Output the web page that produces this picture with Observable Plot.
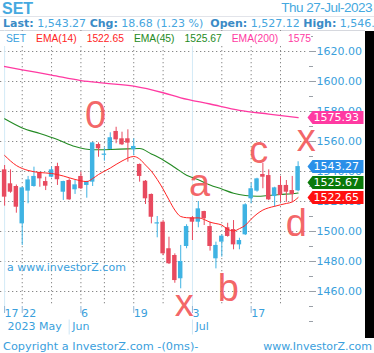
<!DOCTYPE html>
<html><head><meta charset="utf-8">
<script src="https://cdn.jsdelivr.net/npm/d3@7"></script>
<script src="https://cdn.jsdelivr.net/npm/@observablehq/plot@0.6"></script>
<style>
html,body{margin:0;padding:0;background:#fff;}
body{width:374px;height:353px;overflow:hidden;position:relative;font-family:"DejaVu Sans",sans-serif;}
.abs{position:absolute;white-space:nowrap;}
#legend span{margin-right:10px;}
#line2 b{color:#3a8bc6;}
</style></head><body>
<div class="abs" id="title" style="left:2px;top:0px;font:bold 16px 'Liberation Sans';color:#45a9e0;line-height:17px">SET</div>
<div class="abs" id="hdate" style="right:2px;top:0px;font:13.5px 'Liberation Sans';letter-spacing:-0.5px;color:#45a9e0;line-height:16px"></div>
<div class="abs" style="left:0;top:16px;width:374px;height:0;border-top:1px solid #e2e4ea"></div>
<div class="abs" id="line2" style="left:3px;top:17px;width:371px;overflow:hidden;font-size:11px;line-height:13px;color:#46a6de"></div>
<div class="abs" style="left:0;top:30px;width:365px;height:0;border-top:1px solid #d6d8de"></div>
<div class="abs" id="chart" style="left:0;top:30px;"></div>
<div class="abs" id="legend" style="left:0;top:31px;width:311px;height:15px;overflow:hidden;background:#fff;font:10.3px 'Liberation Sans';line-height:15px;padding-left:6px;box-sizing:border-box;z-index:2"></div>
<div class="abs" style="left:365px;top:31px;width:9px;height:307px;background:#000"></div>
<div class="abs" style="left:7px;top:261px;font-size:11px;color:#3aa0dd">a www.investorZ.com</div>
<div class="abs" style="left:3px;top:340px;font-size:11.3px;color:#3aa0dd">Copyright a InvestorZ.com -(0ms)-</div>
<div class="abs" style="right:2px;top:340px;font-size:11px;color:#3aa0dd">www.InvestorZ.com</div>
<script>
// ---- data ----
const dates = ["2023-05-17","2023-05-18","2023-05-19","2023-05-22","2023-05-23","2023-05-24","2023-05-25","2023-05-26","2023-05-29","2023-05-30","2023-05-31",
"2023-06-01","2023-06-02","2023-06-06","2023-06-07","2023-06-08","2023-06-09","2023-06-12","2023-06-13","2023-06-14","2023-06-15","2023-06-16","2023-06-19","2023-06-20","2023-06-21","2023-06-22","2023-06-23","2023-06-26","2023-06-27","2023-06-28","2023-06-29","2023-06-30",
"2023-07-03","2023-07-04","2023-07-05","2023-07-06","2023-07-07","2023-07-10","2023-07-11","2023-07-12","2023-07-13","2023-07-14","2023-07-17","2023-07-18","2023-07-19","2023-07-20","2023-07-21","2023-07-24","2023-07-25","2023-07-26","2023-07-27"];
const open  = [1541.1,1531.8,1530.0,1505.1,1526.9,1530.0,1539.1,1533.3,1536.2,1543.3,1526.2,1534.0,1527.8,1536.7,1530.7,1532.9,1558.0,1550.8,1554.7,1566.7,1561.8,1561.8,1554.5,1544.7,1533.5,1524.7,1505.0,1506.2,1488.5,1484.0,1468.5,1490.0,1509.1,1506.2,1513.3,1503.3,1481.8,1492.9,1502.5,1501.3,1491.1,1497.8,1521.8,1526.9,1538.0,1537.3,1523.3,1530.7,1530.7,1527.3,1527.12];
const high  = [1544.0,1541.1,1531.0,1529.5,1536.7,1542.9,1539.5,1536.2,1542.9,1545.5,1533.5,1535.1,1534.0,1539.5,1533.5,1559.5,1559.1,1555.8,1565.8,1569.5,1566.2,1567.8,1561.8,1545.0,1534.0,1525.0,1510.0,1507.3,1496.2,1485.1,1490.7,1504.5,1510.0,1520.0,1513.5,1506.2,1492.9,1497.8,1505.5,1507.3,1495.5,1518.5,1532.2,1535.5,1545.5,1541.1,1529.5,1536.7,1534.0,1536.7,1546.5];
const low   = [1516.9,1525.5,1512.2,1490.7,1518.5,1529.5,1529.5,1527.3,1535.8,1530.7,1520.7,1520.8,1524.7,1528.0,1522.2,1530.0,1549.5,1546.9,1554.5,1558.5,1557.3,1546.2,1550.7,1532.9,1518.0,1505.1,1495.8,1484.0,1478.0,1465.5,1461.8,1488.5,1494.0,1502.5,1504.0,1486.9,1475.1,1482.9,1496.2,1487.8,1487.8,1497.3,1518.5,1526.2,1528.5,1520.6,1516.2,1519.5,1519.5,1519.5,1526.5];
const close = [1522.9,1526.2,1516.2,1529.1,1534.4,1536.7,1535.1,1530.2,1541.1,1534.5,1533.3,1521.1,1531.1,1528.5,1533.3,1559.1,1555.1,1551.3,1562.5,1561.1,1557.8,1558.9,1556.7,1536.7,1521.8,1509.5,1505.8,1485.1,1478.5,1467.3,1480.0,1503.3,1506.2,1515.1,1508.5,1490.0,1490.7,1496.9,1496.7,1491.1,1494.0,1517.8,1528.5,1535.1,1536.2,1521.1,1529.1,1524.0,1526.2,1524.59,1543.27];

const ema14Idx = [0,2,4,6,8,10,12,14,15,16,18,20,22,23,24,25,26,27,28,29,30,31,32,33,34,35,36,37,38,39,40,41,42,43,44,45,46,47,48,49,50];
const ema14Val = [1550.7,1544.0,1540.7,1539.3,1538.7,1537.0,1534.7,1533.3,1535.3,1538.0,1542.3,1547.0,1550.0,1548.3,1544.3,1540.2,1534.7,1528.3,1521.1,1514.3,1510.0,1509.2,1509.0,1509.1,1508.0,1506.2,1505.3,1504.3,1501.5,1500.3,1501.9,1504.1,1508.2,1511.7,1514.3,1515.8,1516.8,1517.8,1518.7,1519.7,1522.65];
const ema45Idx = [0,3,6,9,12,15,18,21,23,25,27,29,31,33,35,37,39,41,43,45,47,49,50];
const ema45Val = [1575.1,1569.0,1565.3,1561.3,1556.7,1554.5,1554.7,1555.1,1555.3,1551.7,1547.7,1542.7,1537.5,1534.5,1531.0,1528.3,1525.5,1524.0,1523.5,1524.0,1524.7,1525.2,1525.67];
const ema200Idx = [0,3,8,13,17,22,27,30,35,40,45,50];
const ema200Val = [1610.0,1607.8,1604.3,1600.6,1598.9,1596.9,1592.5,1589.1,1585.0,1580.8,1578.3,1575.93];

const yMajor = [1460,1480,1500,1520,1540,1560,1580,1600,1620];
const yMinor = [1440,1450,1470,1490,1510,1530,1550,1570,1590,1610,1630];
const tickDates  = ["2023-05-17","2023-05-22","2023-06-06","2023-06-19","2023-07-03","2023-07-17"];
const tickLabels = ["17","22","6","19","3","17"];
const monthDates  = ["2023-05-17","2023-06-01","2023-07-03"];
const monthLabels = ["2023 May","Jun","Jul"];
const quarterDates = ["2023-05-17","2023-07-03"];

const annoText  = ["0","a","b","c","d","x","x"];
const annoDates = ["2023-06-08","2023-07-04","2023-07-11","2023-07-18","2023-07-26","2023-07-27","2023-06-29"];
const annoOffset = [0.5,0.2,0.1,0.3,0.7,1.4,0.6];
const annoPrice = [1577.3,1532,1462,1554,1505.3,1562,1452];

// ---- build tables ----
const UP = "#3fb3e3", DOWN = "#e84a5f";
const C14 = "#ff2424", C45 = "#238a23", C200 = "#ff3aa2";
const idx = d => dates.indexOf(d);
const candles = dates.map((d,i)=>({i, date:d, open:open[i], high:high[i], low:low[i], close:close[i]}));
const col = d => d.close >= d.open ? UP : DOWN;
const ema14 = ema14Idx.map((i,k)=>({i, v:ema14Val[k]}));
const ema45 = ema45Idx.map((i,k)=>({i, v:ema45Val[k]}));
const ema200 = ema200Idx.map((i,k)=>({i, v:ema200Val[k]}));
const weekStarts = [];
for (let i=1;i<dates.length;i++){
  const a = new Date(dates[i-1]).getUTCDay(), b = new Date(dates[i]).getUTCDay();
  if (b < a) weekStarts.push(i);
}
const qIdx = quarterDates.map(idx);
const gridWeeks = weekStarts.filter(i=>!qIdx.includes(i));
const tickIdx = tickDates.map(idx);
const months = monthDates.map((d,k)=>({i:idx(d), label:monthLabels[k]}));
const annos = annoText.map((t,k)=>({t, i: idx(annoDates[k]) + annoOffset[k], p: annoPrice[k]}));

const n = dates.length - 1;
const lastEma = {e14: ema14Val[ema14Val.length-1], e45: ema45Val[ema45Val.length-1], e200: ema200Val[ema200Val.length-1]};
// price tags with label collision avoidance (resolved from bottom up)
let tags = [
  {v:lastEma.e200, color:C200},
  {v:close[n], color:"#2a8fe8"},
  {v:lastEma.e45, color:"#0a7a0a"},
  {v:lastEma.e14, color:"#ff1010"}
].sort((a,b)=>a.v-b.v);
let prev = -Infinity;
for (const t of tags){ t.pos = Math.max(t.v, prev + 10); prev = t.pos; }

const tagSymbol = { draw(ctx){ ctx.moveTo(-1,0); ctx.lineTo(4,-6.5); ctx.lineTo(55,-6.5); ctx.lineTo(55,6.5); ctx.lineTo(4,6.5); ctx.closePath(); } };

// ---- header texts ----
const fmt = v => d3.format(",.2f")(v);
const chg = close[n]-close[n-1];
document.getElementById("hdate").textContent = d3.utcFormat("%a %d-%b-%Y")(new Date(dates[n]));
document.getElementById("line2").innerHTML =
  `<b>Last:</b> ${fmt(close[n])} <b>Chg:</b> ${d3.format(".2f")(chg)} (${d3.format(".2f")(chg/close[n-1]*100)} %) &nbsp;<b>Open:</b> ${fmt(open[n])} <b>High:</b> ${fmt(high[n])}`;
document.getElementById("legend").innerHTML =
  `<span style="color:#3aa0dd">SET</span><span style="color:${C14}">EMA(14)</span><span style="color:${C14}">${lastEma.e14.toFixed(2)}</span>`+
  `<span style="color:${C45}">EMA(45)</span><span style="color:${C45}">${lastEma.e45.toFixed(2)}</span>`+
  `<span style="color:${C200}">EMA(200)</span><span style="color:${C200}">${lastEma.e200.toFixed(2)}</span>`;

// ---- chart ----
const chart = Plot.plot({
  width: 365, height: 308,
  marginLeft: 0, marginRight: 57, marginTop: 0, marginBottom: 32,
  x: {domain: [-0.7, 51.77], axis: null, label: null},
  y: {domain: [1450, 1634], axis: null, label: null},
  style: {fontFamily: "DejaVu Sans", fontSize: "11px", background: "transparent", overflow: "visible"},
  marks: [
    Plot.gridY(yMajor, {stroke: "#888", strokeOpacity: 1, strokeDasharray: "1.3,2.7"}),
    Plot.gridX(gridWeeks, {stroke: "#888", strokeOpacity: 1, strokeDasharray: "1.3,2.7"}),
    Plot.ruleX(qIdx, {stroke: "#d3eaf7"}),
    Plot.line(ema200, {x:"i", y:"v", stroke: C200, strokeWidth: 1.3, curve: "monotone-x"}),
    Plot.line(ema45, {x:"i", y:"v", stroke: C45, strokeWidth: 1.1, curve: "monotone-x"}),
    Plot.ruleX(candles, {x:"i", y1:"low", y2:"high", stroke: col, strokeWidth: 1}),
    Plot.rect(candles, {x1: d=>d.i-0.38, x2: d=>d.i+0.38,
      y1: d=>Math.min(d.open,d.close), y2: d=>Math.max(Math.max(d.open,d.close), Math.min(d.open,d.close)+0.8),
      fill: col}),
    Plot.line(ema14, {x:"i", y:"v", stroke: C14, strokeWidth: 1, curve: "monotone-x"}),
    Plot.text(annos, {x:"i", y:"p", text:"t", fontSize: 38, fontFamily: "Liberation Sans", fill: "#f2585a", fillOpacity: 0.92}),
    // y axis
    Plot.axisY(yMinor, {anchor:"right", label: null, tickSize: 4, tickPadding: 0, tickFormat: () => "", stroke: "#9aa0a8"}),
    Plot.axisY(yMajor, {anchor:"right", label: null, tickSize: 7, tickPadding: 1, tickFormat: d => d.toFixed(2), stroke: "#9aa0a8", fill: "#3a9fdc", fontSize: 11}),
    // price tags
    Plot.dot(tags, {y:"pos", frameAnchor:"right", symbol: tagSymbol, fill:"color", stroke: null, r: 3}),
    Plot.text(tags, {y:"pos", frameAnchor:"right", text: d=>d.v.toFixed(2), textAnchor:"start", dx: 5, fill:"white", fontSize: 11}),
    // x axis
    Plot.axisX(tickIdx, {label: null, tickSize: 7, tickPadding: -4, tickFormat: i => tickLabels[tickIdx.indexOf(i)], textAnchor: "start", stroke: "#8fb6d6", fill: "#3a9fdc", fontSize: 11}),
    Plot.text(months, {x:"i", text:"label", frameAnchor:"bottom", dy: 23, dx: 3, textAnchor:"start", fill:"#3a9fdc", fontSize: 11}),
    Plot.ruleX(months.slice(1), {x:"i", y1: 1441, y2: 1431, stroke: "#cfe6f5"})
  ]
});
document.getElementById("chart").appendChild(chart);
</script>
</body></html>
